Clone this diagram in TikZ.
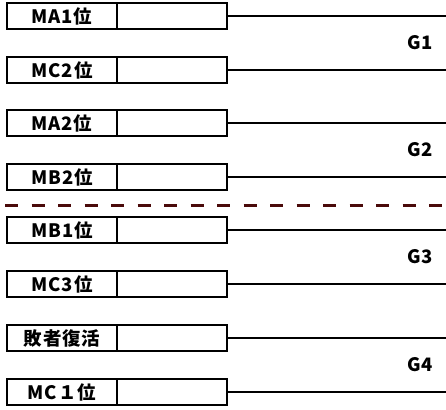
\documentclass[tikz,border=0pt]{standalone}
\usepackage{fontspec}
\setmainfont{Noto Sans CJK JP}
\usetikzlibrary{positioning}
\definecolor{sepred}{HTML}{4A0A0A}

\begin{document}
\begin{tikzpicture}[x=1pt,y=-1pt]
\tikzset{every node/.style={font=\bfseries\fontsize{18.5}{21}\selectfont},
  seedbox/.style={draw, line width=2pt, minimum width=110pt, minimum height=26pt, inner sep=0pt, outer sep=0pt,
    font=\bfseries\fontsize{18.5}{21}\selectfont\addfontfeatures{LetterSpace=5}},
  feed/.style={line width=2pt}}
        \useasboundingbox (0,0) rectangle (446,409);
        \coordinate (edge) at (446,0);

        \node[seedbox] (ma1) at (62,16) {MA1位};
        \node[seedbox, right=0pt of ma1] (ma1w) {};
        \node[seedbox] (mc2) at (62,70) {MC2位};
        \node[seedbox, right=0pt of mc2] (mc2w) {};
        \node[seedbox] (ma2) at (62,123) {MA2位};
        \node[seedbox, right=0pt of ma2] (ma2w) {};
        \node[seedbox] (mb2) at (62,177) {MB2位};
        \node[seedbox, right=0pt of mb2] (mb2w) {};
        \node[seedbox] (mb1) at (62,230) {MB1位};
        \node[seedbox, right=0pt of mb1] (mb1w) {};
        \node[seedbox] (mc3) at (62,284) {MC3位};
        \node[seedbox, right=0pt of mc3] (mc3w) {};
        \node[seedbox] (lr) at (62,338) {敗者復活};
        \node[seedbox, right=0pt of lr] (lrw) {};
        \node[seedbox] (mc1) at (62,392) {MC１位};
        \node[seedbox, right=0pt of mc1] (mc1w) {};

        \draw[feed] (ma1w.east) -- (ma1w.east -| edge);
        \draw[feed] (mc2w.east) -- (mc2w.east -| edge);
        \draw[feed] (ma2w.east) -- (ma2w.east -| edge);
        \draw[feed] (mb2w.east) -- (mb2w.east -| edge);
        \draw[feed] (mb1w.east) -- (mb1w.east -| edge);
        \draw[feed] (mc3w.east) -- (mc3w.east -| edge);
        \draw[feed] (lrw.east) -- (lrw.east -| edge);
        \draw[feed] (mc1w.east) -- (mc1w.east -| edge);

        \node (g1) at (420,43) {G1};
        \node (g2) at (420,150) {G2};
        \node (g3) at (420,257) {G3};
        \node (g4) at (420,365) {G4};

        % block separator
        \coordinate (sepl) at (5,205);
        \coordinate (sepr) at (446,205);
        \draw[sepred, line width=3pt, dash pattern=on 13pt off 13.5pt] (sepl) -- (sepr);
\end{tikzpicture}
\end{document}
